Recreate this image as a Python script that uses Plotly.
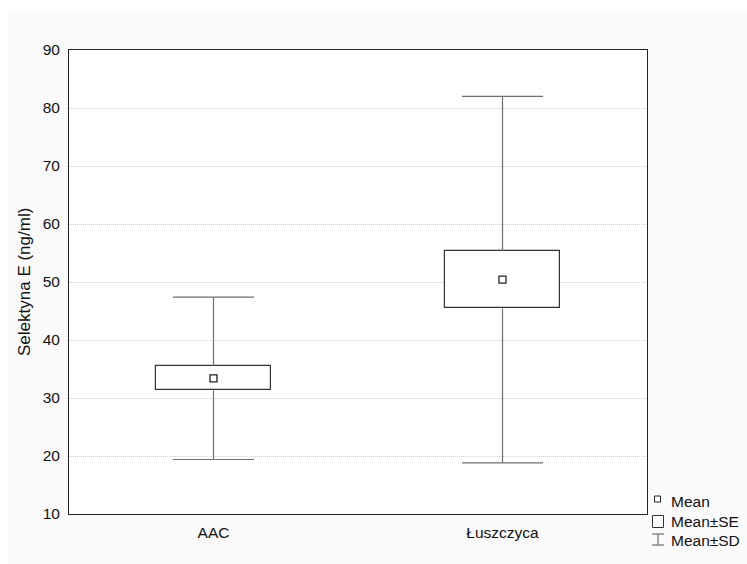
import plotly.graph_objects as go

# Selectin E concentration by group: mean, standard error and standard deviation
categories = ["AAC", "Łuszczyca"]
means = [33.4, 50.4]
se = [2.1, 4.95]
sd = [14.0, 31.6]

y_ticks = [10, 20, 30, 40, 50, 60, 70, 80, 90]

W, H = 747, 564
L, R, T, B = 69, 100, 50, 50
PW, PH = W - L - R, H - T - B

FONT = "Liberation Sans, Arial, sans-serif"
BOX_EDGE = "#333333"
WHISKER = "#6e6e6e"
TXT = "#111111"


def px(xp):
    return (xp - L) / PW


def py(yp):
    return (H - B - yp) / PH


fig = go.Figure()

# Mean ± SD whiskers: vertical stems from the box edges out to mean ± SD
wx, wy = [], []
for c, m, s, d in zip(categories, means, se, sd):
    wx += [c, c, None, c, c, None]
    wy += [m + s, m + d, None, m - s, m - d, None]
fig.add_trace(go.Scatter(x=wx, y=wy, mode="lines",
                         line=dict(color=WHISKER, width=1.2),
                         hoverinfo="skip", showlegend=False))

# whisker caps
cap_x = categories + categories
cap_y = [m + d for m, d in zip(means, sd)] + [m - d for m, d in zip(means, sd)]
fig.add_trace(go.Scatter(x=cap_x, y=cap_y, mode="markers",
                         marker=dict(symbol="line-ew", size=58,
                                     line=dict(color=WHISKER, width=1.2)),
                         hoverinfo="skip", showlegend=False))

# Mean ± SE boxes
fig.add_trace(go.Bar(x=categories,
                     base=[m - s for m, s in zip(means, se)],
                     y=[2 * s for s in se],
                     width=0.4,
                     marker=dict(color="white", line=dict(color=BOX_EDGE, width=1.2)),
                     showlegend=False))

# Means
fig.add_trace(go.Scatter(x=categories, y=means, mode="markers",
                         marker=dict(symbol="square", size=7, color="white",
                                     line=dict(color="#222222", width=1.3)),
                         showlegend=False))

shapes = [
    # light grey panel behind the chart
    dict(type="rect", xref="paper", yref="paper", layer="below",
         x0=px(8), x1=px(W + 5), y0=py(H + 5), y1=py(12),
         fillcolor="#fafafa", line=dict(width=0)),
    # white plot area
    dict(type="rect", xref="paper", yref="paper", layer="below",
         x0=0, x1=1, y0=0, y1=1, fillcolor="white", line=dict(width=0)),
    # legend symbols
    dict(type="rect", xref="paper", yref="paper",
         x0=px(654.5), x1=px(660.5), y0=py(502), y1=py(496),
         fillcolor="white", line=dict(color="#222222", width=1)),
    dict(type="rect", xref="paper", yref="paper",
         x0=px(652.5), x1=px(663.5), y0=py(527.5), y1=py(515.5),
         fillcolor="white", line=dict(color=BOX_EDGE, width=1)),
    dict(type="line", xref="paper", yref="paper",
         x0=px(652), x1=px(664), y0=py(534), y1=py(534),
         line=dict(color=WHISKER, width=1.2)),
    dict(type="line", xref="paper", yref="paper",
         x0=px(658), x1=px(658), y0=py(534), y1=py(545),
         line=dict(color=WHISKER, width=1.2)),
    dict(type="line", xref="paper", yref="paper",
         x0=px(652), x1=px(664), y0=py(545), y1=py(545),
         line=dict(color=WHISKER, width=1.2)),
]

annotations = [
    dict(text="Selektyna E (ng/ml)", xref="paper", yref="paper",
         x=px(24), y=0.5, xanchor="center", yanchor="middle",
         textangle=-90, showarrow=False,
         font=dict(family=FONT, size=17, color=TXT)),
]
for label, yc in [("Mean", 501.5), ("Mean±SE", 521.5), ("Mean±SD", 540)]:
    annotations.append(dict(text=label, xref="paper", yref="paper",
                            x=px(668.5), y=py(yc), xanchor="left", yanchor="middle",
                            showarrow=False,
                            font=dict(family=FONT, size=15.5, color=TXT)))

fig.update_layout(
    width=W, height=H,
    margin=dict(l=L, r=R, t=T, b=B),
    paper_bgcolor="white",
    plot_bgcolor="rgba(0,0,0,0)",
    font=dict(family=FONT, size=15.5, color=TXT),
    shapes=shapes,
    annotations=annotations,
    bargap=0,
    xaxis=dict(type="category", range=[-0.5, 1.5],
               showgrid=False, zeroline=False,
               showline=True, mirror=True, linecolor="#222222", linewidth=1,
               ticks="outside", ticklen=4, tickcolor="rgba(0,0,0,0)",
               tickfont=dict(family=FONT, size=15.5, color=TXT)),
    yaxis=dict(range=[10, 90], tickvals=y_ticks,
               showgrid=True, gridcolor="#cfcfcf", griddash="1px,1px", gridwidth=1,
               zeroline=False,
               showline=True, mirror=True, linecolor="#222222", linewidth=1,
               ticks="outside", ticklen=5, tickcolor="rgba(0,0,0,0)",
               tickfont=dict(family=FONT, size=15.5, color=TXT)),
)

fig.write_html("out.html")
